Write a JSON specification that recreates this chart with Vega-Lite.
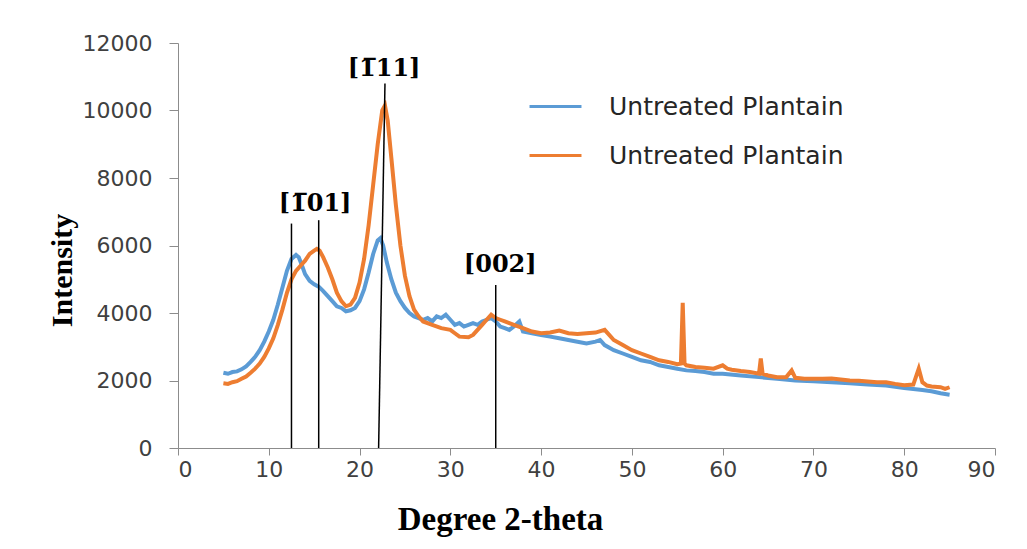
{
  "$schema": "https://vega.github.io/schema/vega-lite/v6.json",
  "width": 817,
  "height": 405,
  "autosize": {"type": "none"},
  "padding": {"left": 178, "top": 43, "right": 32, "bottom": 101},
  "background": "white",
  "config": {
    "view": {"stroke": null},
    "axis": {
      "grid": false,
      "domainColor": "#8c8c8c",
      "tickColor": "#8c8c8c",
      "labelFont": "DejaVu Sans",
      "labelFontSize": 22,
      "labelColor": "#404040",
      "titleFont": "Liberation Serif",
      "titleFontWeight": "bold",
      "titleColor": "#000000"
    }
  },
  "datasets": {
    "xrd": [
      {"theta": 5, "intensity": 2230, "series": "A"},
      {"theta": 5.5, "intensity": 2200, "series": "A"},
      {"theta": 6, "intensity": 2250, "series": "A"},
      {"theta": 6.5, "intensity": 2270, "series": "A"},
      {"theta": 7, "intensity": 2330, "series": "A"},
      {"theta": 7.5, "intensity": 2420, "series": "A"},
      {"theta": 8, "intensity": 2550, "series": "A"},
      {"theta": 8.5, "intensity": 2700, "series": "A"},
      {"theta": 9, "intensity": 2900, "series": "A"},
      {"theta": 9.5, "intensity": 3150, "series": "A"},
      {"theta": 10, "intensity": 3450, "series": "A"},
      {"theta": 10.5, "intensity": 3800, "series": "A"},
      {"theta": 11, "intensity": 4250, "series": "A"},
      {"theta": 11.5, "intensity": 4750, "series": "A"},
      {"theta": 12, "intensity": 5250, "series": "A"},
      {"theta": 12.5, "intensity": 5600, "series": "A"},
      {"theta": 13, "intensity": 5720, "series": "A"},
      {"theta": 13.3, "intensity": 5650, "series": "A"},
      {"theta": 13.6, "intensity": 5450, "series": "A"},
      {"theta": 14, "intensity": 5150, "series": "A"},
      {"theta": 14.5, "intensity": 4950, "series": "A"},
      {"theta": 15, "intensity": 4850, "series": "A"},
      {"theta": 15.5, "intensity": 4780, "series": "A"},
      {"theta": 16, "intensity": 4650, "series": "A"},
      {"theta": 16.5, "intensity": 4500, "series": "A"},
      {"theta": 17, "intensity": 4350, "series": "A"},
      {"theta": 17.5, "intensity": 4200, "series": "A"},
      {"theta": 18, "intensity": 4150, "series": "A"},
      {"theta": 18.5, "intensity": 4050, "series": "A"},
      {"theta": 19, "intensity": 4080, "series": "A"},
      {"theta": 19.5, "intensity": 4150, "series": "A"},
      {"theta": 20, "intensity": 4350, "series": "A"},
      {"theta": 20.5, "intensity": 4700, "series": "A"},
      {"theta": 21, "intensity": 5200, "series": "A"},
      {"theta": 21.5, "intensity": 5750, "series": "A"},
      {"theta": 22, "intensity": 6150, "series": "A"},
      {"theta": 22.3, "intensity": 6220, "series": "A"},
      {"theta": 22.6, "intensity": 6000, "series": "A"},
      {"theta": 23, "intensity": 5500, "series": "A"},
      {"theta": 23.5, "intensity": 5000, "series": "A"},
      {"theta": 24, "intensity": 4600, "series": "A"},
      {"theta": 24.5, "intensity": 4350, "series": "A"},
      {"theta": 25, "intensity": 4150, "series": "A"},
      {"theta": 25.5, "intensity": 4000, "series": "A"},
      {"theta": 26, "intensity": 3900, "series": "A"},
      {"theta": 26.5, "intensity": 3850, "series": "A"},
      {"theta": 27, "intensity": 3800, "series": "A"},
      {"theta": 27.5, "intensity": 3850, "series": "A"},
      {"theta": 28, "intensity": 3750, "series": "A"},
      {"theta": 28.5, "intensity": 3900, "series": "A"},
      {"theta": 29, "intensity": 3850, "series": "A"},
      {"theta": 29.5, "intensity": 3950, "series": "A"},
      {"theta": 30, "intensity": 3800, "series": "A"},
      {"theta": 30.5, "intensity": 3650, "series": "A"},
      {"theta": 31, "intensity": 3700, "series": "A"},
      {"theta": 31.5, "intensity": 3600, "series": "A"},
      {"theta": 32, "intensity": 3650, "series": "A"},
      {"theta": 32.5, "intensity": 3700, "series": "A"},
      {"theta": 33, "intensity": 3650, "series": "A"},
      {"theta": 33.5, "intensity": 3750, "series": "A"},
      {"theta": 34, "intensity": 3800, "series": "A"},
      {"theta": 34.5, "intensity": 3850, "series": "A"},
      {"theta": 35, "intensity": 3750, "series": "A"},
      {"theta": 35.5, "intensity": 3600, "series": "A"},
      {"theta": 36, "intensity": 3550, "series": "A"},
      {"theta": 36.5, "intensity": 3500, "series": "A"},
      {"theta": 37, "intensity": 3600, "series": "A"},
      {"theta": 37.6, "intensity": 3750, "series": "A"},
      {"theta": 38, "intensity": 3450, "series": "A"},
      {"theta": 39, "intensity": 3400, "series": "A"},
      {"theta": 40, "intensity": 3350, "series": "A"},
      {"theta": 41, "intensity": 3300, "series": "A"},
      {"theta": 42, "intensity": 3250, "series": "A"},
      {"theta": 43, "intensity": 3200, "series": "A"},
      {"theta": 44, "intensity": 3150, "series": "A"},
      {"theta": 45, "intensity": 3100, "series": "A"},
      {"theta": 46, "intensity": 3150, "series": "A"},
      {"theta": 46.5, "intensity": 3200, "series": "A"},
      {"theta": 47, "intensity": 3050, "series": "A"},
      {"theta": 48, "intensity": 2900, "series": "A"},
      {"theta": 49, "intensity": 2800, "series": "A"},
      {"theta": 50, "intensity": 2700, "series": "A"},
      {"theta": 51, "intensity": 2600, "series": "A"},
      {"theta": 52, "intensity": 2550, "series": "A"},
      {"theta": 53, "intensity": 2450, "series": "A"},
      {"theta": 54, "intensity": 2400, "series": "A"},
      {"theta": 55, "intensity": 2350, "series": "A"},
      {"theta": 56, "intensity": 2300, "series": "A"},
      {"theta": 57, "intensity": 2280, "series": "A"},
      {"theta": 58, "intensity": 2250, "series": "A"},
      {"theta": 59, "intensity": 2200, "series": "A"},
      {"theta": 60, "intensity": 2200, "series": "A"},
      {"theta": 62, "intensity": 2150, "series": "A"},
      {"theta": 64, "intensity": 2100, "series": "A"},
      {"theta": 66, "intensity": 2050, "series": "A"},
      {"theta": 68, "intensity": 2000, "series": "A"},
      {"theta": 70, "intensity": 1980, "series": "A"},
      {"theta": 72, "intensity": 1950, "series": "A"},
      {"theta": 74, "intensity": 1920, "series": "A"},
      {"theta": 76, "intensity": 1880, "series": "A"},
      {"theta": 78, "intensity": 1850, "series": "A"},
      {"theta": 80, "intensity": 1780, "series": "A"},
      {"theta": 82, "intensity": 1720, "series": "A"},
      {"theta": 83, "intensity": 1680, "series": "A"},
      {"theta": 84, "intensity": 1620, "series": "A"},
      {"theta": 85, "intensity": 1580, "series": "A"},
      {"theta": 5, "intensity": 1920, "series": "B"},
      {"theta": 5.5, "intensity": 1900, "series": "B"},
      {"theta": 6, "intensity": 1950, "series": "B"},
      {"theta": 6.5, "intensity": 1980, "series": "B"},
      {"theta": 7, "intensity": 2050, "series": "B"},
      {"theta": 7.5, "intensity": 2120, "series": "B"},
      {"theta": 8, "intensity": 2230, "series": "B"},
      {"theta": 8.5, "intensity": 2350, "series": "B"},
      {"theta": 9, "intensity": 2500, "series": "B"},
      {"theta": 9.5, "intensity": 2700, "series": "B"},
      {"theta": 10, "intensity": 2950, "series": "B"},
      {"theta": 10.5, "intensity": 3250, "series": "B"},
      {"theta": 11, "intensity": 3650, "series": "B"},
      {"theta": 11.5, "intensity": 4100, "series": "B"},
      {"theta": 12, "intensity": 4600, "series": "B"},
      {"theta": 12.5, "intensity": 5000, "series": "B"},
      {"theta": 13, "intensity": 5250, "series": "B"},
      {"theta": 13.5, "intensity": 5400, "series": "B"},
      {"theta": 14, "intensity": 5550, "series": "B"},
      {"theta": 14.5, "intensity": 5750, "series": "B"},
      {"theta": 15, "intensity": 5850, "series": "B"},
      {"theta": 15.3, "intensity": 5900, "series": "B"},
      {"theta": 15.6, "intensity": 5850, "series": "B"},
      {"theta": 16, "intensity": 5650, "series": "B"},
      {"theta": 16.5, "intensity": 5350, "series": "B"},
      {"theta": 17, "intensity": 5000, "series": "B"},
      {"theta": 17.5, "intensity": 4600, "series": "B"},
      {"theta": 18, "intensity": 4350, "series": "B"},
      {"theta": 18.5, "intensity": 4200, "series": "B"},
      {"theta": 19, "intensity": 4250, "series": "B"},
      {"theta": 19.5, "intensity": 4450, "series": "B"},
      {"theta": 20, "intensity": 4900, "series": "B"},
      {"theta": 20.5, "intensity": 5600, "series": "B"},
      {"theta": 21, "intensity": 6600, "series": "B"},
      {"theta": 21.5, "intensity": 7800, "series": "B"},
      {"theta": 22, "intensity": 9000, "series": "B"},
      {"theta": 22.5, "intensity": 10000, "series": "B"},
      {"theta": 22.8, "intensity": 10150, "series": "B"},
      {"theta": 23.1, "intensity": 9700, "series": "B"},
      {"theta": 23.5, "intensity": 8600, "series": "B"},
      {"theta": 24, "intensity": 7200, "series": "B"},
      {"theta": 24.5, "intensity": 6000, "series": "B"},
      {"theta": 25, "intensity": 5100, "series": "B"},
      {"theta": 25.5, "intensity": 4500, "series": "B"},
      {"theta": 26, "intensity": 4100, "series": "B"},
      {"theta": 26.5, "intensity": 3900, "series": "B"},
      {"theta": 27, "intensity": 3750, "series": "B"},
      {"theta": 28, "intensity": 3650, "series": "B"},
      {"theta": 29, "intensity": 3550, "series": "B"},
      {"theta": 30, "intensity": 3500, "series": "B"},
      {"theta": 30.5, "intensity": 3400, "series": "B"},
      {"theta": 31, "intensity": 3300, "series": "B"},
      {"theta": 32, "intensity": 3280, "series": "B"},
      {"theta": 32.5, "intensity": 3350, "series": "B"},
      {"theta": 33, "intensity": 3500, "series": "B"},
      {"theta": 33.5, "intensity": 3650, "series": "B"},
      {"theta": 34, "intensity": 3800, "series": "B"},
      {"theta": 34.5, "intensity": 3950, "series": "B"},
      {"theta": 35, "intensity": 3850, "series": "B"},
      {"theta": 35.5, "intensity": 3800, "series": "B"},
      {"theta": 36, "intensity": 3750, "series": "B"},
      {"theta": 36.5, "intensity": 3700, "series": "B"},
      {"theta": 37, "intensity": 3650, "series": "B"},
      {"theta": 38, "intensity": 3550, "series": "B"},
      {"theta": 39, "intensity": 3450, "series": "B"},
      {"theta": 40, "intensity": 3400, "series": "B"},
      {"theta": 41, "intensity": 3420, "series": "B"},
      {"theta": 42, "intensity": 3480, "series": "B"},
      {"theta": 43, "intensity": 3400, "series": "B"},
      {"theta": 44, "intensity": 3380, "series": "B"},
      {"theta": 45, "intensity": 3400, "series": "B"},
      {"theta": 46, "intensity": 3420, "series": "B"},
      {"theta": 47, "intensity": 3500, "series": "B"},
      {"theta": 47.5, "intensity": 3350, "series": "B"},
      {"theta": 48, "intensity": 3200, "series": "B"},
      {"theta": 49, "intensity": 3050, "series": "B"},
      {"theta": 50, "intensity": 2900, "series": "B"},
      {"theta": 51, "intensity": 2800, "series": "B"},
      {"theta": 52, "intensity": 2700, "series": "B"},
      {"theta": 53, "intensity": 2600, "series": "B"},
      {"theta": 54, "intensity": 2550, "series": "B"},
      {"theta": 55, "intensity": 2480, "series": "B"},
      {"theta": 55.4, "intensity": 2500, "series": "B"},
      {"theta": 55.6, "intensity": 4300, "series": "B"},
      {"theta": 55.8, "intensity": 2500, "series": "B"},
      {"theta": 56, "intensity": 2450, "series": "B"},
      {"theta": 57, "intensity": 2400, "series": "B"},
      {"theta": 58, "intensity": 2380, "series": "B"},
      {"theta": 59, "intensity": 2350, "series": "B"},
      {"theta": 60, "intensity": 2450, "series": "B"},
      {"theta": 60.5, "intensity": 2350, "series": "B"},
      {"theta": 61, "intensity": 2320, "series": "B"},
      {"theta": 62, "intensity": 2280, "series": "B"},
      {"theta": 63, "intensity": 2250, "series": "B"},
      {"theta": 64, "intensity": 2200, "series": "B"},
      {"theta": 64.2, "intensity": 2650, "series": "B"},
      {"theta": 64.4, "intensity": 2200, "series": "B"},
      {"theta": 65, "intensity": 2150, "series": "B"},
      {"theta": 66, "intensity": 2100, "series": "B"},
      {"theta": 67, "intensity": 2100, "series": "B"},
      {"theta": 67.6, "intensity": 2300, "series": "B"},
      {"theta": 68, "intensity": 2080, "series": "B"},
      {"theta": 69, "intensity": 2050, "series": "B"},
      {"theta": 70, "intensity": 2050, "series": "B"},
      {"theta": 71, "intensity": 2050, "series": "B"},
      {"theta": 72, "intensity": 2060, "series": "B"},
      {"theta": 73, "intensity": 2030, "series": "B"},
      {"theta": 74, "intensity": 2000, "series": "B"},
      {"theta": 75, "intensity": 1990, "series": "B"},
      {"theta": 76, "intensity": 1970, "series": "B"},
      {"theta": 77, "intensity": 1950, "series": "B"},
      {"theta": 78, "intensity": 1950, "series": "B"},
      {"theta": 79, "intensity": 1900, "series": "B"},
      {"theta": 80, "intensity": 1860, "series": "B"},
      {"theta": 81, "intensity": 1880, "series": "B"},
      {"theta": 81.6, "intensity": 2350, "series": "B"},
      {"theta": 82, "intensity": 1950, "series": "B"},
      {"theta": 82.5, "intensity": 1850, "series": "B"},
      {"theta": 83, "intensity": 1820, "series": "B"},
      {"theta": 84, "intensity": 1800, "series": "B"},
      {"theta": 84.5, "intensity": 1750, "series": "B"},
      {"theta": 85, "intensity": 1800, "series": "B"}
    ],
    "peaks": [
      {"x1": 12.5, "x2": 12.5, "bottom": 0, "top": 6650},
      {"x1": 15.5, "x2": 15.5, "bottom": 0, "top": 6750},
      {"x1": 22.1, "x2": 22.8, "bottom": 0, "top": 10800},
      {"x1": 35, "x2": 35, "bottom": 0, "top": 4830}
    ],
    "labels": [
      {"lx": 15.1, "ly": 7220, "label": "[1̅01]"},
      {"lx": 22.7, "ly": 11220, "label": "[1̅11]"},
      {"lx": 35.5, "ly": 5420, "label": "[002]"}
    ]
  },
  "layer": [
    {
      "data": {"name": "xrd"},
      "mark": {"type": "line", "strokeWidth": 4, "interpolate": "linear"},
      "encoding": {
        "x": {
          "field": "theta", "type": "quantitative",
          "scale": {"domain": [0, 90], "nice": false},
          "axis": {
            "values": [0, 10, 20, 30, 40, 50, 60, 70, 80, 90],
            "format": "d",
            "title": "Degree 2-theta",
            "titleFontSize": 33,
            "titleX": 322,
            "titleY": 55,
            "titleAlign": "center",
            "titleBaseline": "top",
            "tickSize": 7,
            "labelPadding": 4
          }
        },
        "y": {
          "field": "intensity", "type": "quantitative",
          "scale": {"domain": [0, 12000], "nice": false},
          "axis": {
            "values": [0, 2000, 4000, 6000, 8000, 10000, 12000],
            "format": "d",
            "title": "Intensity",
            "titleFontSize": 30,
            "titleX": -116,
            "titleY": 227,
            "titleAngle": -90,
            "titleAlign": "center",
            "titleBaseline": "middle",
            "tickSize": 9,
            "labelPadding": 17
          }
        },
        "color": {
          "field": "series", "type": "nominal",
          "scale": {"domain": ["A", "B"], "range": ["#5B9BD5", "#ED7D31"]},
          "legend": {
            "title": null,
            "orient": "none",
            "legendX": 350,
            "legendY": 36,
            "symbolType": "stroke",
            "symbolSize": 2700,
            "symbolStrokeWidth": 3,
            "labelExpr": "'Untreated Plantain'",
            "labelFont": "DejaVu Sans",
            "labelFontSize": 25,
            "labelLimit": 400,
            "labelColor": "#262626",
            "labelOffset": 26,
            "rowPadding": 8
          }
        }
      }
    },
    {
      "data": {"name": "peaks"},
      "mark": {"type": "rule", "color": "#000000", "strokeWidth": 1.5},
      "encoding": {
        "x": {"field": "x1", "type": "quantitative"},
        "x2": {"field": "x2"},
        "y": {"field": "bottom", "type": "quantitative"},
        "y2": {"field": "top"}
      }
    },
    {
      "data": {"name": "labels"},
      "mark": {"type": "text", "font": "DejaVu Serif", "fontWeight": "bold", "fontSize": 24, "color": "#000000", "align": "center", "baseline": "middle"},
      "encoding": {
        "x": {"field": "lx", "type": "quantitative"},
        "y": {"field": "ly", "type": "quantitative"},
        "text": {"field": "label"}
      }
    }
  ]
}
